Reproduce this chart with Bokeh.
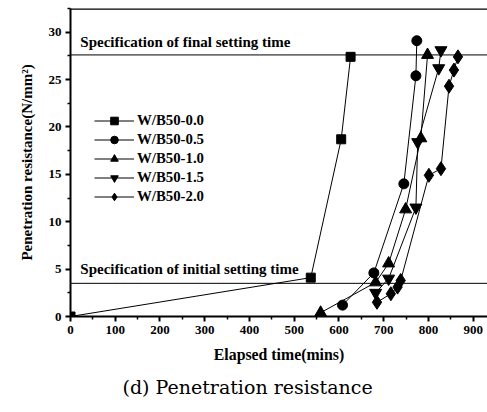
from bokeh.plotting import figure
from bokeh.models import Span, Label, Title, Legend, LegendItem, FixedTicker
from bokeh.embed import file_html
from bokeh.resources import INLINE

# Data (elapsed time in minutes, penetration resistance in N/mm^2)
t_00 = [0, 537, 605, 626]
r_00 = [0, 4.1, 18.7, 27.4]
t_05 = [608, 678, 745, 772, 774]
r_05 = [1.2, 4.6, 14.0, 25.4, 29.1]
t_10 = [559, 682, 711, 749, 783, 798]
r_10 = [0.4, 3.6, 5.6, 11.3, 18.8, 27.6]
t_15 = [682, 711, 772, 776, 823, 828]
r_15 = [2.5, 4.0, 11.5, 18.4, 26.2, 28.1]
t_20 = [685, 716, 731, 738, 801, 828, 846, 857, 866]
r_20 = [1.5, 2.4, 3.1, 3.8, 14.9, 15.6, 24.3, 26.0, 27.4]

series_names = ["W/B50-0.0", "W/B50-0.5", "W/B50-1.0", "W/B50-1.5", "W/B50-2.0"]
markers = ["square", "circle", "triangle", "inverted_triangle", "diamond"]
marker_sizes = [9, 10, 12, 12, 14]

initial_spec = 3.5
final_spec = 27.6

x_ticks = [0, 100, 200, 300, 400, 500, 600, 700, 800, 900]
y_ticks = [0, 5, 10, 15, 20, 25, 30]

SERIF = "Liberation Serif"

p = figure(width=487, height=412, output_backend="svg", toolbar_location=None,
           x_range=(0, 932), y_range=(0, 32.5),
           min_border_left=70, min_border_right=0, min_border_top=8, min_border_bottom=96)
p.outline_line_color = None
p.xgrid.visible = False
p.ygrid.visible = False
p.background_fill_color = "white"
p.border_fill_color = "white"

renderers = []
for t, r, name, m, s in zip([t_00, t_05, t_10, t_15, t_20],
                            [r_00, r_05, r_10, r_15, r_20],
                            series_names, markers, marker_sizes):
    ln = p.line(t, r, line_color="black", line_width=1)
    sc = p.scatter(t, r, marker=m, size=s, fill_color="black", line_color="black")
    renderers.append((name, [ln, sc]))

legend = Legend(items=[LegendItem(label=n, renderers=rs) for n, rs in renderers],
                location=(24, 110), background_fill_alpha=0, border_line_color=None,
                label_text_font=SERIF, label_text_font_style="bold",
                label_text_font_size="14.8px", label_text_color="black",
                glyph_width=40, glyph_height=19,
                label_height=19, spacing=0, padding=0, margin=0, label_standoff=3)
p.add_layout(legend)

p.add_layout(Span(location=final_spec, dimension="width", line_color="black", line_width=1))
p.add_layout(Span(location=initial_spec, dimension="width", line_color="black", line_width=1))
p.add_layout(Span(location=32.5, dimension="width", line_color="black", line_width=2.5))

p.add_layout(Label(x=22, y=28.1, text="Specification of final setting time",
                   text_font=SERIF, text_font_style="bold", text_font_size="15px",
                   text_color="black"))
p.add_layout(Label(x=22, y=4.2, text="Specification of initial setting time",
                   text_font=SERIF, text_font_style="bold", text_font_size="15px",
                   text_color="black"))

for ax in (p.xaxis[0], p.yaxis[0]):
    ax.axis_line_width = 2
    ax.axis_line_color = "black"
    ax.major_tick_line_color = "black"
    ax.minor_tick_line_color = "black"
    ax.major_tick_line_width = 2
    ax.minor_tick_line_width = 1.5
    ax.major_tick_out = 5
    ax.major_tick_in = 0
    ax.minor_tick_out = 3
    ax.minor_tick_in = 0
    ax.major_label_text_font = SERIF
    ax.major_label_text_font_style = "bold"
    ax.major_label_text_font_size = "13px"
    ax.major_label_text_color = "black"
    ax.axis_label_text_font = SERIF
    ax.axis_label_text_font_style = "bold"
    ax.axis_label_text_color = "black"

p.xaxis[0].axis_label_text_font_size = "15.8px"
p.yaxis[0].axis_label_text_font_size = "15px"
p.xaxis[0].ticker = FixedTicker(ticks=x_ticks, minor_ticks=[50 + 100 * i for i in range(9)])
p.yaxis[0].ticker = FixedTicker(ticks=y_ticks, minor_ticks=[2.5 + 5 * i for i in range(7)])
p.xaxis[0].axis_label = "Elapsed time(mins)"
p.yaxis[0].axis_label = "Penetration resistance(N/mm²)"
p.xaxis[0].axis_label_standoff = 9
p.yaxis[0].axis_label_standoff = 11
p.xaxis[0].major_label_standoff = 4
p.yaxis[0].major_label_standoff = 4

cap = Title(text="(d) Penetration resistance", align="left", offset=52,
            text_font="DejaVu Serif", text_font_style="normal", text_font_size="19px",
            text_color="black", standoff=16)
p.add_layout(cap, "below")

open("out.html", "w").write(file_html(p, INLINE))
